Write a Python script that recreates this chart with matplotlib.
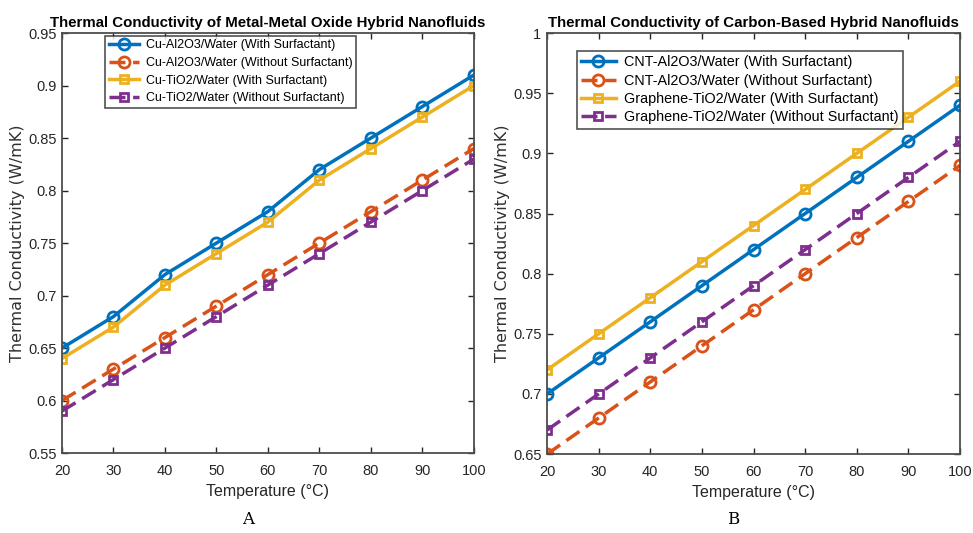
import matplotlib
matplotlib.use("Agg")
import matplotlib.pyplot as plt

temperature = [20, 30, 40, 50, 60, 70, 80, 90, 100]

# Metal / metal-oxide hybrids
cu_al2o3_with = [0.65, 0.68, 0.72, 0.75, 0.78, 0.82, 0.85, 0.88, 0.91]
cu_al2o3_without = [0.60, 0.63, 0.66, 0.69, 0.72, 0.75, 0.78, 0.81, 0.84]
cu_tio2_with = [0.64, 0.67, 0.71, 0.74, 0.77, 0.81, 0.84, 0.87, 0.90]
cu_tio2_without = [0.59, 0.62, 0.65, 0.68, 0.71, 0.74, 0.77, 0.80, 0.83]

# Carbon-based hybrids
cnt_al2o3_with = [0.70, 0.73, 0.76, 0.79, 0.82, 0.85, 0.88, 0.91, 0.94]
cnt_al2o3_without = [0.65, 0.68, 0.71, 0.74, 0.77, 0.80, 0.83, 0.86, 0.89]
graphene_tio2_with = [0.72, 0.75, 0.78, 0.81, 0.84, 0.87, 0.90, 0.93, 0.96]
graphene_tio2_without = [0.67, 0.70, 0.73, 0.76, 0.79, 0.82, 0.85, 0.88, 0.91]

labels_a = ["Cu-Al2O3/Water (With Surfactant)", "Cu-Al2O3/Water (Without Surfactant)",
            "Cu-TiO2/Water (With Surfactant)", "Cu-TiO2/Water (Without Surfactant)"]
labels_b = ["CNT-Al2O3/Water (With Surfactant)", "CNT-Al2O3/Water (Without Surfactant)",
            "Graphene-TiO2/Water (With Surfactant)", "Graphene-TiO2/Water (Without Surfactant)"]

colors = ["#0072BD", "#D95319", "#EDB120", "#7E2F8E"]
markers = ["o", "o", "s", "s"]
styles = ["-", "--", "-", "--"]
msizes = [8, 8, 6, 6]

FONT = "Liberation Sans"
edge = "#262626"

fig = plt.figure(figsize=(9.73, 5.33), dpi=100)
ax_a = fig.add_axes([0.0637, 0.150, 0.4233, 0.788])
ax_b = fig.add_axes([0.5622, 0.148, 0.4245, 0.790])


def draw(ax, series, labels, title, ylim, yticks, yticklabels, legend_bbox,
         legend_size, legend_spacing):
    for i, ys in enumerate(series):
        line, = ax.plot(temperature, ys, linestyle=styles[i], color=colors[i], lw=2.5,
                        marker=markers[i], ms=msizes[i], mfc="none", mew=2,
                        label=labels[i])
        if styles[i] == "--":
            line.set_dashes((4.6, 2.2))
    ax.set_xlim(20, 100)
    ax.set_ylim(*ylim)
    ax.set_xticks(temperature)
    ax.set_yticks(yticks)
    ax.set_yticklabels(yticklabels)
    ax.tick_params(direction="in", top=True, right=True, length=4, width=1,
                   colors=edge, labelsize=10.5, labelcolor="#262626")
    ax.tick_params(axis="x", pad=8)
    ax.tick_params(axis="y", pad=4)
    for lbl in ax.get_xticklabels() + ax.get_yticklabels():
        lbl.set_family(FONT)
    for sp in ax.spines.values():
        sp.set_color("#4d4d4d")
        sp.set_linewidth(1.3)
    ax.set_title(title, fontsize=10.8, fontweight="bold", family=FONT, pad=4)
    ax.set_xlabel("Temperature (°C)", fontsize=11.5, family=FONT, color="#262626",
                  labelpad=4)
    ax.set_ylabel("Thermal Conductivity (W/mK)", fontsize=11.5, family="DejaVu Sans",
                  color="#303030", labelpad=2)
    leg = ax.legend(loc="upper left", bbox_to_anchor=legend_bbox,
                    prop={"family": FONT, "size": legend_size}, frameon=True,
                    fancybox=False, borderpad=0.3, labelspacing=legend_spacing,
                    handlelength=2.4, handletextpad=0.6, borderaxespad=0)
    leg.get_frame().set_edgecolor(edge)
    leg.get_frame().set_linewidth(1.2)


draw(ax_a, [cu_al2o3_with, cu_al2o3_without, cu_tio2_with, cu_tio2_without], labels_a,
     "Thermal Conductivity of Metal-Metal Oxide Hybrid Nanofluids",
     (0.55, 0.95), [0.55, 0.6, 0.65, 0.7, 0.75, 0.8, 0.85, 0.9, 0.95],
     ["0.55", "0.6", "0.65", "0.7", "0.75", "0.8", "0.85", "0.9", "0.95"],
     (0.104, 0.994), 9.0, 0.45)
draw(ax_b, [cnt_al2o3_with, cnt_al2o3_without, graphene_tio2_with, graphene_tio2_without],
     labels_b, "Thermal Conductivity of Carbon-Based Hybrid Nanofluids",
     (0.65, 1.0), [0.65, 0.7, 0.75, 0.8, 0.85, 0.9, 0.95, 1.0],
     ["0.65", "0.7", "0.75", "0.8", "0.85", "0.9", "0.95", "1"],
     (0.072, 0.957), 10.4, 0.3)

fig.text(0.2545, 0.025, "A", fontsize=12, family="DejaVu Serif", ha="center", va="center")
fig.text(0.7535, 0.025, "B", fontsize=12, family="DejaVu Serif", ha="center", va="center")

fig.savefig("out.png", dpi=100, facecolor="white")
